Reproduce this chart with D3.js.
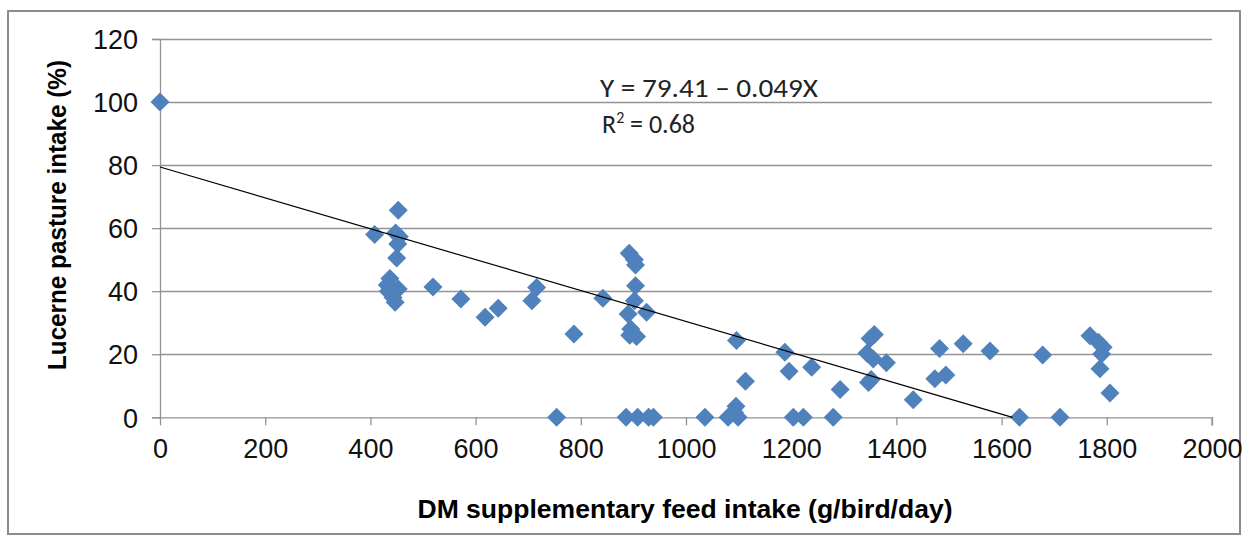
<!DOCTYPE html>
<html>
<head>
<meta charset="utf-8">
<script src="https://cdn.jsdelivr.net/npm/d3@7"></script>
<style>
  html, body { margin: 0; padding: 0; background: #fff; }
  svg { display: block; }
</style>
</head>
<body>
<svg id="chart" width="1244" height="542"></svg>
<script>
// ---- data ----
const feedIntake = [
  0,
  408, 432, 437, 434, 443, 447, 453, 450, 452, 455, 448, 453,
  519, 572, 618, 643,
  707, 716, 787, 842, 754,
  892, 902, 904, 904, 902, 890, 925, 895, 893, 906,
  886, 908, 929, 938,
  1036, 1080, 1092, 1095, 1099,
  1096, 1113, 1188, 1196, 1204, 1223, 1239, 1280, 1293,
  1344, 1350, 1358, 1356, 1381, 1347, 1352,
  1432, 1473, 1482, 1494, 1527, 1578, 1634, 1678, 1711,
  1768, 1784, 1793, 1790, 1787, 1806
];
const lucerneIntake = [
  100,
  58, 42, 44, 40, 38, 36.5, 40.7, 50.5, 55, 57.3, 58.5, 65.7,
  41.3, 37.5, 31.7, 34.6,
  37, 41.2, 26.4, 37.8, 0,
  52, 50, 48.3, 41.7, 37, 32.8, 33.3, 28, 26, 25.6,
  0, 0, 0, 0,
  0, 0, 1.5, 3.5, 0,
  24.4, 11.4, 20.6, 14.6, 0, 0, 15.9, 0, 8.8,
  20.3, 25, 26.3, 18.5, 17.3, 11, 12,
  5.6, 12.2, 21.8, 13.4, 23.3, 21, 0, 19.8, 0,
  25.9, 23.8, 22.2, 20.1, 15.4, 7.7
];
const xTicks = [0, 200, 400, 600, 800, 1000, 1200, 1400, 1600, 1800, 2000];
const yTicks = [0, 20, 40, 60, 80, 100, 120];
const intercept = 79.41;
const slope = -0.049;
const equationText = "Y = 79.41 \u2013 0.049X";
const r2Value = "0.68";
const xTitle = "DM supplementary feed intake (g/bird/day)";
const yTitle = "Lucerne pasture intake (%)";

// ---- layout ----
const svg = d3.select("#chart");
const plot = { left: 160, right: 1212, top: 39, bottom: 417.3 };
const x = d3.scaleLinear().domain([0, 2000]).range([plot.left, plot.right]);
const y = d3.scaleLinear().domain([0, 120]).range([plot.bottom, plot.top]);
const gridColor = "#939393";
const tickFont = "'Liberation Sans', Arial, sans-serif";

// outer border
svg.append("rect")
  .attr("x", 8).attr("y", 11).attr("width", 1232).attr("height", 523)
  .attr("fill", "none").attr("stroke", "#8c8c8c").attr("stroke-width", 2);

// horizontal gridlines
svg.append("g").selectAll("line").data(yTicks.filter(d => d > 0)).join("line")
  .attr("x1", plot.left).attr("x2", plot.right)
  .attr("y1", d => Math.round(y(d)) + 0.5).attr("y2", d => Math.round(y(d)) + 0.5)
  .attr("stroke", gridColor).attr("stroke-width", 1.3);

// y axis
const yAxis = d3.axisLeft(y).tickValues(yTicks).tickSize(8).tickPadding(14)
  .tickFormat(d3.format("d"));
const gy = svg.append("g").attr("transform", `translate(${plot.left},0)`).call(yAxis);
gy.select(".domain").attr("stroke", gridColor).attr("stroke-width", 1.3);
gy.selectAll(".tick line").attr("stroke", gridColor).attr("stroke-width", 1.3);
gy.selectAll(".tick text").attr("font-family", tickFont).attr("font-size", 27)
  .attr("fill", "#111").attr("dy", "0.36em");

// x axis
const xAxis = d3.axisBottom(x).tickValues(xTicks).tickSize(8).tickPadding(14)
  .tickFormat(d3.format("d"));
const gx = svg.append("g").attr("transform", `translate(0,${plot.bottom})`).call(xAxis);
gx.select(".domain").attr("stroke", gridColor).attr("stroke-width", 1.3)
  .attr("d", `M${plot.left},0.5H${plot.right}V8.5`);
gx.selectAll(".tick line").attr("stroke", gridColor).attr("stroke-width", 1.3);
gx.selectAll(".tick text").attr("font-family", tickFont).attr("font-size", 27)
  .attr("fill", "#111").attr("dy", "0.71em");

// points
const data = feedIntake.map((v, i) => ({ fx: v, ly: lucerneIntake[i] }));
const r = 9.5;
svg.append("g").selectAll("path").data(data).join("path")
  .attr("d", d => {
    const cx = x(d.fx), cy = y(d.ly);
    return `M${cx},${cy - r}L${cx + r},${cy}L${cx},${cy + r}L${cx - r},${cy}Z`;
  })
  .attr("fill", "#4f81bd");

// regression line
const xEnd = -intercept / slope;
svg.append("line")
  .attr("x1", x(0)).attr("y1", y(intercept))
  .attr("x2", x(xEnd)).attr("y2", y(0))
  .attr("stroke", "#000").attr("stroke-width", 1.2);

// equation
const eqFont = "Carlito, Lato, 'Open Sans', sans-serif";
svg.append("text").attr("x", 600).attr("y", 97)
  .attr("font-family", eqFont).attr("font-size", 26).attr("fill", "#222")
  .attr("textLength", 218).attr("lengthAdjust", "spacingAndGlyphs")
  .text(equationText);
const r2 = svg.append("text").attr("x", 602).attr("y", 133)
  .attr("font-family", eqFont).attr("font-size", 26).attr("fill", "#222");
r2.append("tspan").text("R");
r2.append("tspan").attr("font-size", 16).attr("dy", -10).text("2");
r2.append("tspan").attr("dy", 10).text(" = " + r2Value);

// axis titles
svg.append("text")
  .attr("x", (plot.left + plot.right) / 2 - 1).attr("y", 518)
  .attr("text-anchor", "middle")
  .attr("font-family", tickFont).attr("font-weight", "bold").attr("font-size", 26)
  .attr("fill", "#000")
  .attr("textLength", 535).attr("lengthAdjust", "spacingAndGlyphs")
  .text(xTitle);
svg.append("text")
  .attr("transform", "translate(66,215) rotate(-90)")
  .attr("text-anchor", "middle")
  .attr("font-family", tickFont).attr("font-weight", "bold").attr("font-size", 26)
  .attr("fill", "#000")
  .attr("textLength", 310).attr("lengthAdjust", "spacingAndGlyphs")
  .text(yTitle);
</script>
</body>
</html>
